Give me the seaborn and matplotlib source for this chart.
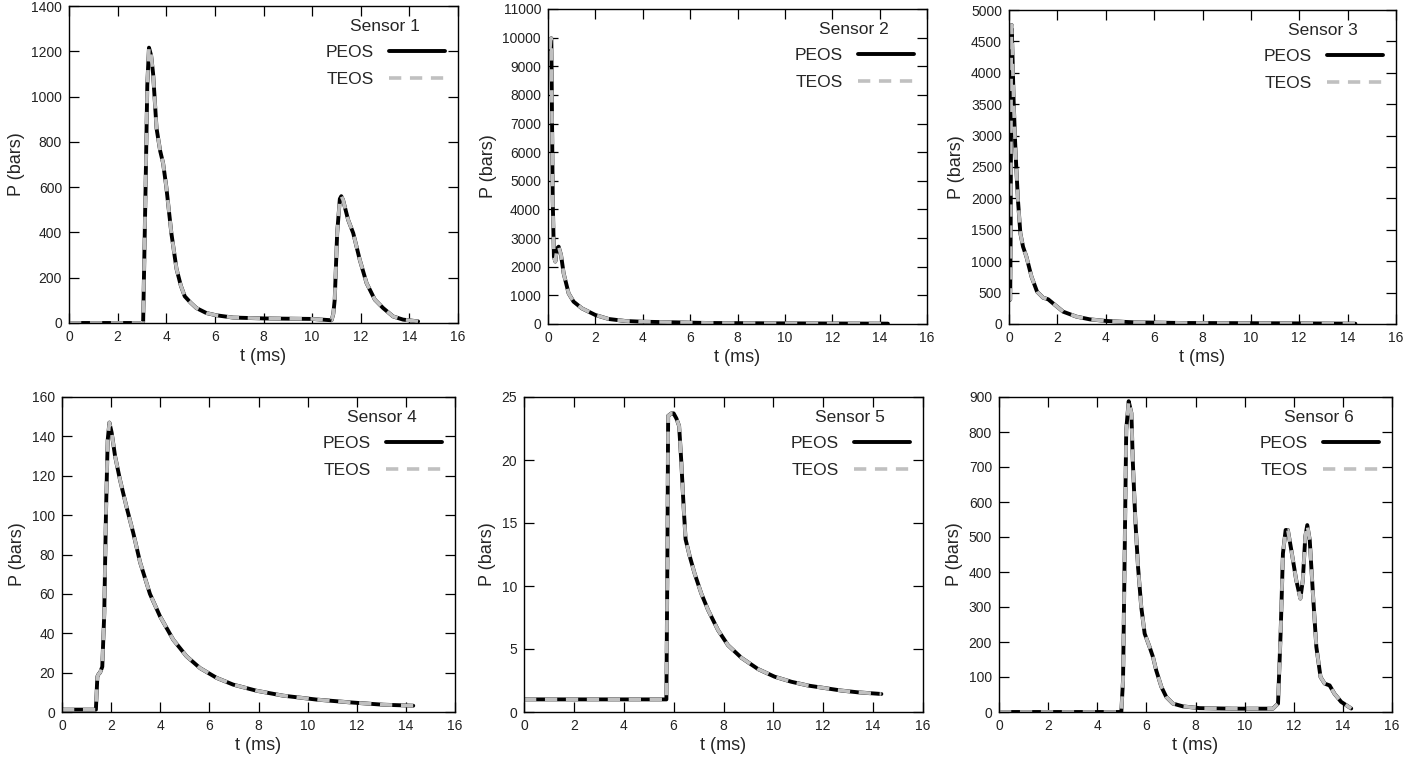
import numpy as np
import pandas as pd
import seaborn as sns
import matplotlib
matplotlib.use('Agg')
import matplotlib.pyplot as plt

# sensor pressure traces (t in ms, P in bars)
t_s1 = [0.0, 1.0, 2.0, 3.0, 3.05, 3.15, 3.22, 3.29, 3.38, 3.46, 3.6, 3.75, 3.87, 4.0, 4.21, 4.42, 4.6, 4.76, 5.0, 5.24,
        5.65, 6.06, 6.75, 8.1, 9.0, 10.0, 10.8, 10.87, 10.93, 11.03, 11.14, 11.2, 11.27, 11.48, 11.69, 11.96, 12.24,
        12.58, 12.92, 13.33, 13.74, 14.36]
p_s1 = [0, 0, 0, 0, 5, 600, 1050, 1216, 1180, 1100, 860, 760, 706, 603, 397, 240, 165, 118, 90, 66,
        44, 34, 24, 20, 19, 18, 12, 40, 103, 397, 548, 560, 544, 456, 397, 279, 176,
        103, 66, 29, 15, 7]

t_s2 = [0.08, 0.11, 0.14, 0.2, 0.25, 0.31, 0.38, 0.45, 0.55, 0.66, 0.87, 1.08, 1.43, 2.0, 2.56, 3.26, 3.96, 5.37,
        6.77, 9.58, 14.35]
p_s2 = [9600, 9900, 9977, 4330, 2350, 2180, 2640, 2700, 2410, 1770, 1070, 780, 547, 314, 175, 105, 80, 58,
        35, 23, 12]

t_s3 = [0.02, 0.05, 0.07, 0.09, 0.11, 0.15, 0.19, 0.25, 0.3, 0.37, 0.47, 0.58, 0.72, 0.93, 1.16, 1.41, 1.62, 1.82, 2.24,
        2.79, 3.34, 4.03, 5.14, 7.2, 11.35, 14.32]
p_s3 = [380, 390, 1500, 4200, 4760, 4200, 3567, 2930, 2505, 1975, 1444, 1231, 1072, 754, 515, 419, 393, 329, 196,
        117, 74, 48, 27, 16, 11, 5]

t_s4 = [0.0, 0.5, 1.0, 1.38, 1.44, 1.5, 1.55, 1.64, 1.72, 1.79, 1.86, 1.93, 2.02, 2.16, 2.36, 2.63, 2.9, 3.18, 3.58,
        3.99, 4.53, 5.07, 5.62, 6.3, 6.97, 7.92, 9.0, 10.37, 11.72, 13.08, 14.3]
p_s4 = [1.2, 1.2, 1.2, 1.2, 18, 19.5, 20, 23, 50, 101, 138, 147, 142, 130, 118, 104, 91, 76, 60,
        48.6, 36.7, 28.3, 22.3, 17.3, 13.9, 10.8, 8.3, 6.3, 4.9, 3.7, 3.2]

t_s5 = [0.0, 2.0, 4.0, 5.71, 5.75, 5.78, 5.91, 6.0, 6.11, 6.22, 6.31, 6.4, 6.48, 6.64, 6.84, 7.11, 7.38, 7.78, 8.18,
        8.72, 9.39, 10.05, 10.72, 11.39, 12.06, 12.73, 13.4, 14.33]
p_s5 = [1.0, 1.0, 1.0, 1.0, 12.0, 23.5, 23.7, 23.7, 23.3, 22.7, 19.8, 16.3, 13.7, 12.4, 11.0, 9.4, 8.1, 6.5, 5.3,
        4.3, 3.4, 2.8, 2.4, 2.1, 1.9, 1.7, 1.56, 1.43]

t_s6 = [0.0, 2.0, 4.0, 4.98, 5.05, 5.12, 5.18, 5.28, 5.39, 5.45, 5.55, 5.66, 5.79, 5.93, 6.13, 6.27, 6.4, 6.61, 6.81,
        7.08, 7.49, 8.17, 9.53, 11.15, 11.36, 11.47, 11.56, 11.67, 11.76, 11.9, 12.1, 12.27, 12.37, 12.47, 12.55,
        12.65, 12.78, 12.92, 13.09, 13.26, 13.46, 13.66, 13.93, 14.34]
p_s6 = [0, 0, 0, 0, 91, 472, 806, 888, 854, 711, 549, 415, 301, 224, 186, 157, 119, 72, 43,
        24, 16, 11, 9.5, 9.5, 24, 234, 453, 520, 520, 463, 377, 324, 377, 501, 534,
        492, 339, 186, 100, 81, 76, 52, 29, 10]

sensor_names = ['Sensor 1', 'Sensor 2', 'Sensor 3', 'Sensor 4', 'Sensor 5', 'Sensor 6']
t_all = [t_s1, t_s2, t_s3, t_s4, t_s5, t_s6]
peos_all = [p_s1, p_s2, p_s3, p_s4, p_s5, p_s6]
# TEOS is indistinguishable from PEOS in the picture
teos_all = [list(p) for p in peos_all]
y_max = [1400, 11000, 5000, 160, 25, 900]
y_step = [200, 1000, 500, 20, 5, 100]

sns.set_style('ticks')
plt.rcParams['font.family'] = ['Liberation Sans', 'DejaVu Sans']

W, H = 1426, 764
fig = plt.figure(figsize=(W/100, H/100), dpi=100)

# axes boxes in pixels: left, top, right, bottom
boxes = [(69, 6, 458, 323), (548, 9, 927, 324), (1009, 10, 1396, 324),
         (62, 397, 455, 712), (524, 397, 923, 712), (999, 397, 1392, 712)]

for i in range(6):
    l, t, r, b = boxes[i]
    ax = fig.add_axes([l/W, 1-b/H, (r-l)/W, (b-t)/H])

    df = pd.DataFrame({'t': t_all[i], 'PEOS': peos_all[i], 'TEOS': teos_all[i]})
    sns.lineplot(data=df, x='t', y='PEOS', ax=ax, color='black', lw=2.8, estimator=None, label='PEOS')
    sns.lineplot(data=df, x='t', y='TEOS', ax=ax, color='#c0c0c0', lw=2.6, estimator=None,
                 linestyle=(0, (3.4, 2.4)), label='TEOS')

    ax.set_xlim(0, 16)
    ax.set_ylim(0, y_max[i])
    ax.set_xticks(np.arange(0, 17, 2))
    ax.set_yticks(np.arange(0, y_max[i]+1, y_step[i]))
    ax.tick_params('both', direction='in', length=7, width=0.9, labelsize=10, colors='black',
                   top=True, right=True, pad=5)
    ax.tick_params('both', labelcolor='#222222')
    for sp in ax.spines.values():
        sp.set_linewidth(1.0)
        sp.set_color('black')
    ax.set_xlabel('t (ms)', fontsize=13, labelpad=3)
    ax.set_ylabel('P (bars)', fontsize=13, labelpad=4)

    leg = ax.legend(title=sensor_names[i], loc='upper right', frameon=False, markerfirst=False,
                    fontsize=12.5, title_fontsize=12.5, handlelength=3.2, handletextpad=0.9,
                    labelspacing=0.65, borderaxespad=0.5, borderpad=0.25)

plt.savefig('out.png', dpi=100)
